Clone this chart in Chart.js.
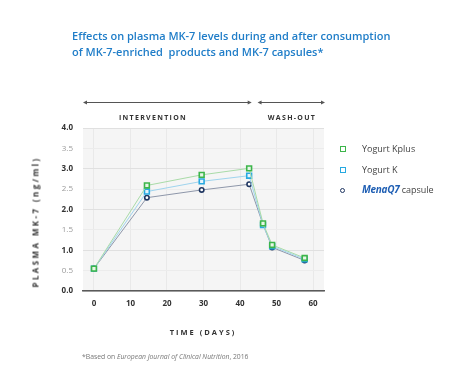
<!DOCTYPE html>
<html>
<head>
<meta charset="utf-8">
<script src="https://cdn.jsdelivr.net/npm/chart.js@4/dist/chart.umd.min.js"></script>
<style>
  html,body{margin:0;padding:0;background:#fff;}
  #wrap{position:relative;width:450px;height:389px;overflow:hidden;font-family:"Open Sans",sans-serif;}
  #c{position:absolute;left:0;top:0;}
  .t{position:absolute;white-space:nowrap;}
  #title{left:72px;top:28px;color:#1f7dc8;font-size:11px;font-weight:600;line-height:15.5px;}
  .cap{font-weight:700;color:#333;font-size:7px;letter-spacing:1.3px;}
  #ytitle{left:35px;top:222px;transform:translate(-50%,-50%) rotate(-90deg);font-size:8px;letter-spacing:2.4px;}
  #xtitle{left:203px;top:332px;transform:translate(-50%,-50%);font-size:7.5px;letter-spacing:2px;}
  #lab1{left:153px;top:117px;transform:translate(-50%,-50%);}
  #lab2{left:292px;top:117px;transform:translate(-50%,-50%);}
  #foot{left:82px;top:352px;font-size:6.8px;color:#777;}
  .leg{position:absolute;left:340px;font-size:9px;color:#444;white-space:nowrap;}
  .mk{position:absolute;left:0;width:4px;height:4px;border:1.5px solid;background:#fff;top:-3px;}
  .lt{position:absolute;left:22px;top:-7px;}
  .mena{color:#1f5fb4;font-style:italic;font-weight:700;font-size:10px;letter-spacing:-0.3px;}
</style>
</head>
<body>
<div id="wrap">
  <canvas id="c" width="450" height="389"></canvas>
  <div class="t" id="title">Effects on plasma MK-7 levels during and after consumption<br>of MK-7-enriched&nbsp; products and MK-7 capsules*</div>
  <div class="t cap" id="lab1">INTERVENTION</div>
  <div class="t cap" id="lab2">WASH-OUT</div>
  <div class="t cap" id="ytitle">PLASMA MK-7 (ng/ml)</div>
  <div class="t cap" id="xtitle">TIME (DAYS)</div>
  <div class="t" id="foot">*Based on <i>European Journal of Clinical Nutrition</i>, 2016</div>
  <div id="legend"></div>
</div>
<script>
// ---- data ----
const days = [0, 14.5, 29.5, 42.5, 46.3, 48.8, 57.7];
const yogurtKplus = [0.55, 2.59, 2.85, 3.01, 1.66, 1.13, 0.81];
const yogurtK     = [0.55, 2.44, 2.69, 2.83, 1.62, 1.10, 0.78];
const menaq7      = [0.55, 2.29, 2.48, 2.62, 1.63, 1.07, 0.75];
const seriesNames = ["Yogurt Kplus", "Yogurt K", "capsule"];
const xTicks = [0, 10, 20, 30, 40, 50, 60];
const yTicks = [0, 0.5, 1, 1.5, 2, 2.5, 3, 3.5, 4];

const pts = arr => arr.map((v, i) => ({x: days[i], y: v}));
const isInt = c => !(c && c.tick) || c.tick.value % 1 === 0;

const bgPlugin = {
  id: 'bg',
  beforeDraw(chart) {
    const {ctx, chartArea: a} = chart;
    ctx.save();
    ctx.fillStyle = '#f5f5f5';
    ctx.fillRect(a.left, a.top, a.right - a.left, a.bottom - a.top);
    ctx.restore();
  },
  afterDraw(chart) {
    const {ctx, chartArea: a, scales} = chart;
    const x = scales.x;
    const y0 = 102;
    const segs = [[a.left, x.getPixelForValue(43.2)], [x.getPixelForValue(44.8), a.right + 1]];
    ctx.save();
    ctx.strokeStyle = '#555';
    ctx.fillStyle = '#555';
    ctx.lineWidth = 1;
    segs.forEach(([s, e]) => {
      ctx.beginPath(); ctx.moveTo(s + 2, y0 + 0.5); ctx.lineTo(e - 2, y0 + 0.5); ctx.stroke();
      ctx.beginPath(); ctx.moveTo(s, y0 + 0.5); ctx.lineTo(s + 4, y0 - 1.5); ctx.lineTo(s + 4, y0 + 2.5); ctx.closePath(); ctx.fill();
      ctx.beginPath(); ctx.moveTo(e, y0 + 0.5); ctx.lineTo(e - 4, y0 - 1.5); ctx.lineTo(e - 4, y0 + 2.5); ctx.closePath(); ctx.fill();
    });
    ctx.restore();
  }
};

const chart = new Chart(document.getElementById('c'), {
  type: 'line',
  data: {
    datasets: [
      {label: seriesNames[0], data: pts(yogurtKplus), borderColor: '#a9dba8', borderWidth: 1,
       pointStyle: 'rect', pointRadius: 3.4, pointBorderWidth: 1.6, pointBorderColor: '#3cb54a', pointBackgroundColor: '#e6f6e6'},
      {label: seriesNames[1], data: pts(yogurtK), borderColor: '#9fd4ee', borderWidth: 1,
       pointStyle: 'rect', pointRadius: 3.4, pointBorderWidth: 1.6, pointBorderColor: '#27a9e1', pointBackgroundColor: '#e4f4fc'},
      {label: seriesNames[2], data: pts(menaq7), borderColor: '#8e97aa', borderWidth: 1,
       pointStyle: 'circle', pointRadius: 2.2, pointBorderWidth: 1.6, pointBorderColor: '#1e3560', pointBackgroundColor: '#ffffff'}
    ]
  },
  options: {
    responsive: false,
    animation: false,
    devicePixelRatio: 1,
    layout: {padding: {left: 0, top: 128, right: 126, bottom: 78}},
    plugins: {legend: {display: false}, tooltip: {enabled: false}},
    scales: {
      x: {
        type: 'linear', min: -3, max: 63,
        afterBuildTicks: s => { s.ticks = xTicks.map(v => ({value: v})); },
        afterFit: s => { s.height = 20; },
        grid: {color: '#e9e9e9', lineWidth: 1, drawTicks: false},
        border: {display: true, color: '#5a5a5a', width: 1.5},
        ticks: {padding: 8, font: {family: 'Open Sans', size: 8, weight: 'bold'}, color: '#333'}
      },
      y: {
        min: 0, max: 4,
        afterBuildTicks: s => { s.ticks = yTicks.map(v => ({value: v})); },
        afterFit: s => { s.width = 83; },
        grid: {color: c => isInt(c) ? '#e0e0e0' : '#ececec', lineWidth: 1, drawTicks: false},
        border: {display: false},
        ticks: {
          padding: 10,
          callback: v => Number(v).toFixed(1),
          color: c => isInt(c) ? '#333' : '#9a9a9a',
          font: c => ({family: 'Open Sans', size: 8, weight: isInt(c) ? 'bold' : 'normal'})
        }
      }
    }
  },
  plugins: [bgPlugin]
});

// HTML legend built from datasets
const legend = document.getElementById('legend');
const tops = [149, 170, 191];
chart.data.datasets.forEach((ds, i) => {
  const d = document.createElement('div');
  d.className = 'leg';
  d.style.top = tops[i] + 'px';
  const m = document.createElement('span');
  m.className = 'mk';
  m.style.borderColor = ds.pointBorderColor;
  if (ds.pointStyle === 'circle') { m.style.borderRadius = '50%'; m.style.width = '3px'; m.style.height = '3px'; }
  d.appendChild(m);
  const t = document.createElement('span');
  t.className = 'lt';
  if (i === 2) {
    t.innerHTML = '<span class="mena">MenaQ7</span> ' + ds.label;
    t.style.top = '-9px';
  } else t.textContent = ds.label;
  d.appendChild(t);
  legend.appendChild(d);
});
</script>
</body>
</html>
